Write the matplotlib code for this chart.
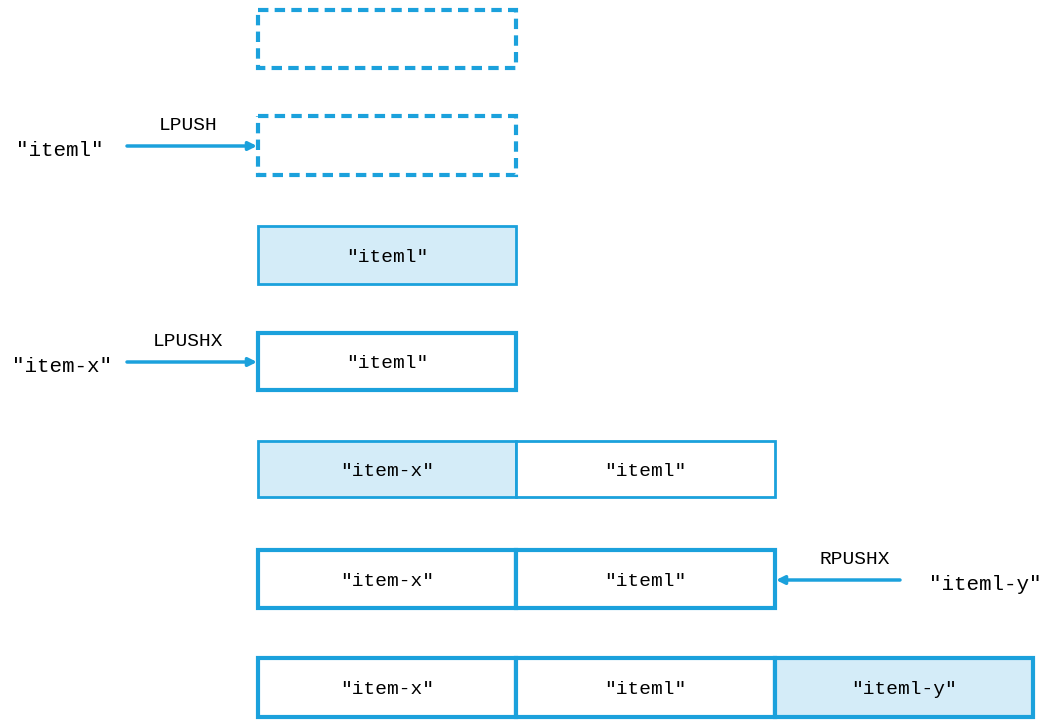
import matplotlib.pyplot as plt
from matplotlib.patches import Rectangle

BLUE = "#1ba1dc"
FILL = "#d4ecf8"
FONT = "Liberation Mono"

# rows of cells: (labels, filled flags, style, y_top, y_bottom)
row_labels = [
    [""], [""], ['"iteml"'], ['"iteml"'],
    ['"item-x"', '"iteml"'],
    ['"item-x"', '"iteml"'],
    ['"item-x"', '"iteml"', '"iteml-y"'],
]
row_filled = [
    [False], [False], [True], [False],
    [True, False], [False, False], [False, False, True],
]
row_style = ["dashed", "dashed", "thin", "thick", "thin", "thick", "thick"]
row_top = [10, 116, 226, 333, 441, 550, 658]
row_bottom = [68, 175, 284, 390, 497, 608, 717]
col_edges = [258, 516, 775, 1033]

# arrows: (text, label, x_from, x_to, y, text_x, label_x)
arrows = [
    ('"iteml"', "LPUSH", 127, 257, 146, 60, 188),
    ('"item-x"', "LPUSHX", 127, 257, 362, 62, 188),
    ('"iteml-y"', "RPUSHX", 900, 776, 580, 985, 855),
]

fig = plt.figure(figsize=(10.63, 7.23), dpi=100)
ax = fig.add_axes([0, 0, 1, 1])
ax.set_xlim(0, 1063)
ax.set_ylim(723, 0)
ax.axis("off")

for labels, filled, style, top, bot in zip(row_labels, row_filled, row_style, row_top, row_bottom):
    lw = {"dashed": 3, "thin": 2, "thick": 3}[style]
    ls = (0, (2.5, 1.5)) if style == "dashed" else "solid"
    for i, (lab, f) in enumerate(zip(labels, filled)):
        x0, x1 = col_edges[i], col_edges[i + 1]
        ax.add_patch(Rectangle((x0, top), x1 - x0, bot - top,
                               facecolor=FILL if f else "white",
                               edgecolor=BLUE, lw=lw, linestyle=ls))
        if lab:
            ax.text((x0 + x1) / 2, (top + bot) / 2 + 2, lab, family=FONT,
                    fontsize=14, ha="center", va="center")

for text, label, xa, xb, y, tx, lx in arrows:
    ax.annotate("", xy=(xb, y), xytext=(xa, y),
                arrowprops=dict(arrowstyle="-|>", color=BLUE, lw=2.5,
                                mutation_scale=12, shrinkA=0, shrinkB=0))
    ax.text(tx, y + 4, text, family=FONT, fontsize=15, ha="center", va="center")
    ax.text(lx, y - 20, label, family=FONT, fontsize=14, ha="center", va="center")

fig.savefig("out.png", dpi=100)
